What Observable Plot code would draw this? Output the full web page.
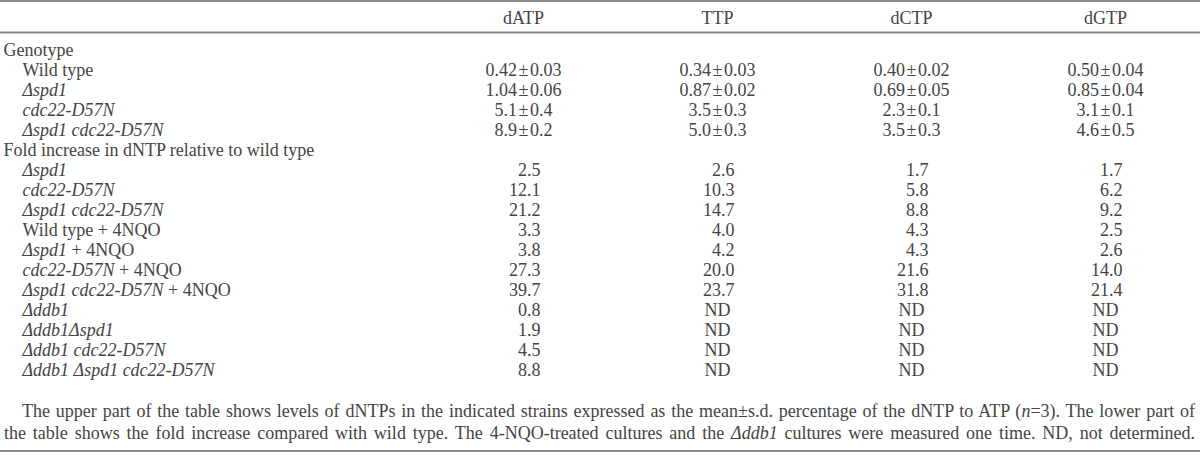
<!DOCTYPE html>
<html><head><meta charset="utf-8">
<script src="https://cdn.jsdelivr.net/npm/d3@7"></script>
<script src="https://cdn.jsdelivr.net/npm/@observablehq/plot@0.6"></script>
<style>
body{margin:0;background:#fff;}
#wrap{width:1200px;font-family:"Liberation Serif","Times New Roman",serif;color:#444;border-top:2px solid #8a8a8a;}
#chart svg{display:block;}
#caption{box-sizing:border-box;width:1200px;padding:0 5px 6px 4px;font-size:18px;line-height:22px;text-indent:18px;text-align:justify;text-align-last:justify;white-space:nowrap;border-bottom:2px solid #8a8a8a;}
</style></head><body>
<div id="wrap"><div id="chart"></div>
<div id="caption">The upper part of the table shows levels of dNTPs in the indicated strains expressed as the mean±s.d. percentage of the dNTP to ATP (<i>n</i>=3). The lower part of<br>the table shows the fold increase compared with wild type. The 4-NQO-treated cultures and the <i>Δddb1</i> cultures were measured one time. ND, not determined.</div>
</div>
<script>
// columns
const columns = ["dATP", "TTP", "dCTP", "dGTP"];
// section headings
const sections = ["Genotype", "Fold increase in dNTP relative to wild type"];
// upper part: dNTP levels (mean ± s.d., % of ATP); decimals shown per row
const genotypeRows = ["Wild type", "_Δspd1_", "_cdc22-D57N_", "_Δspd1 cdc22-D57N_"];
const levelDecimals = [2, 2, 1, 1];
const dATPMean = [0.42, 1.04, 5.1, 8.9];
const dATPSd   = [0.03, 0.06, 0.4, 0.2];
const TTPMean  = [0.34, 0.87, 3.5, 5.0];
const TTPSd    = [0.03, 0.02, 0.3, 0.3];
const dCTPMean = [0.40, 0.69, 2.3, 3.5];
const dCTPSd   = [0.02, 0.05, 0.1, 0.3];
const dGTPMean = [0.50, 0.85, 3.1, 4.6];
const dGTPSd   = [0.04, 0.04, 0.1, 0.5];
// lower part: fold increase (null = ND)
const foldRows = ["_Δspd1_", "_cdc22-D57N_", "_Δspd1 cdc22-D57N_", "Wild type + 4NQO", "_Δspd1_ + 4NQO",
  "_cdc22-D57N_ + 4NQO", "_Δspd1 cdc22-D57N_ + 4NQO", "_Δddb1_", "_Δddb1Δspd1_", "_Δddb1 cdc22-D57N_", "_Δddb1 Δspd1 cdc22-D57N_"];
const foldDATP = [2.5, 12.1, 21.2, 3.3, 3.8, 27.3, 39.7, 0.8, 1.9, 4.5, 8.8];
const foldTTP  = [2.6, 10.3, 14.7, 4.0, 4.2, 20.0, 23.7, null, null, null, null];
const foldDCTP = [1.7, 5.8, 8.8, 4.3, 4.3, 21.6, 31.8, null, null, null, null];
const foldDGTP = [1.7, 6.2, 9.2, 2.5, 2.6, 14.0, 21.4, null, null, null, null];

// build table
const heads = [], subs = [];
const keys = [];
keys.push("s0"); heads.push({key: "s0", label: sections[0]});
genotypeRows.forEach((l, i) => { keys.push("g" + i); subs.push({key: "g" + i, label: l}); });
keys.push("s1"); heads.push({key: "s1", label: sections[1]});
foldRows.forEach((l, i) => { keys.push("f" + i); subs.push({key: "f" + i, label: l}); });

const means = {dATP: dATPMean, TTP: TTPMean, dCTP: dCTPMean, dGTP: dGTPMean};
const sds = {dATP: dATPSd, TTP: TTPSd, dCTP: dCTPSd, dGTP: dGTPSd};
const folds = {dATP: foldDATP, TTP: foldTTP, dCTP: foldDCTP, dGTP: foldDGTP};

const levelCells = [], foldCells = [], ndCells = [];
for (const c of columns) {
  means[c].forEach((m, i) => {
    const d = levelDecimals[i];
    levelCells.push({col: c, key: "g" + i, text: m.toFixed(d) + "\u200a±\u200a" + sds[c][i].toFixed(d)});
  });
  folds[c].forEach((v, i) => {
    if (v == null) ndCells.push({col: c, key: "f" + i, text: "ND"});
    else foldCells.push({col: c, key: "f" + i, text: v.toFixed(1)});
  });
}

const FS = 18, INK = "#444";
const plot = Plot.plot({
  width: 1200, height: 398,
  marginTop: 30, marginLeft: 0, marginRight: 0, marginBottom: 0,
  style: {fontFamily: '"Liberation Serif","Times New Roman",serif', fontSize: FS + "px", color: INK, background: "#fff"},
  x: {type: "point", domain: columns, range: [522, 1105], padding: 0},
  y: {type: "point", domain: keys, range: [43, 373], padding: 0, axis: null},
  marks: [
    Plot.frame({anchor: "top", stroke: "#8a8a8a", strokeWidth: 2}),
    Plot.axisX({anchor: "top", tickSize: 0, tickPadding: 9, label: null, fontSize: FS, fill: INK}),
    Plot.text(heads, {y: "key", text: "label", frameAnchor: "left", dx: 3, textAnchor: "start", fill: INK, fontSize: FS}),
    Plot.text(subs, {y: "key", text: "label", frameAnchor: "left", dx: 22, textAnchor: "start", fill: INK, fontSize: FS, className: "sublabel"}),
    Plot.text(levelCells, {x: "col", y: "key", text: "text", fill: INK, fontSize: FS}),
    Plot.text(foldCells, {x: "col", y: "key", text: "text", textAnchor: "end", dx: 17, fill: INK, fontSize: FS}),
    Plot.text(ndCells, {x: "col", y: "key", text: "text", fill: INK, fontSize: FS})
  ]
});
document.getElementById("chart").appendChild(plot);

// apply italics (markup: _italic_)
plot.querySelectorAll("g.sublabel text").forEach(t => {
  const parts = t.textContent.split("_");
  t.textContent = "";
  parts.forEach((p, j) => {
    if (!p) return;
    const ts = document.createElementNS("http://www.w3.org/2000/svg", "tspan");
    ts.textContent = p;
    if (j % 2 === 1) ts.setAttribute("font-style", "italic");
    t.appendChild(ts);
  });
});
</script>
</body></html>
